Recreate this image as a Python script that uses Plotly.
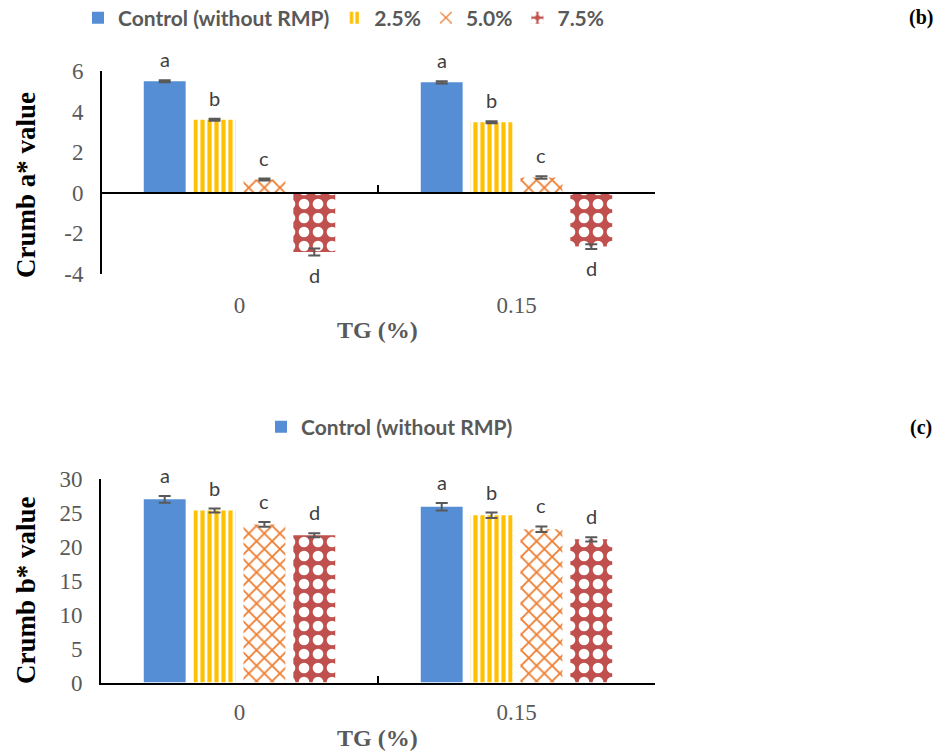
import plotly.graph_objects as go

# ---------------- data ----------------
categories = ["0", "0.15"]
series_names = ["Control (without RMP)", "2.5%", "5.0%", "7.5%"]

a_values = {
    "Control (without RMP)": [5.50, 5.44],
    "2.5%": [3.60, 3.47],
    "5.0%": [0.65, 0.75],
    "7.5%": [-2.92, -2.65],
}
a_errors = {
    "Control (without RMP)": [0.05, 0.05],
    "2.5%": [0.05, 0.05],
    "5.0%": [0.05, 0.06],
    "7.5%": [0.17, 0.12],
}
b_values = {
    "Control (without RMP)": [27.0, 25.9],
    "2.5%": [25.35, 24.65],
    "5.0%": [23.3, 22.6],
    "7.5%": [21.7, 21.1],
}
b_errors = {
    "Control (without RMP)": [0.5, 0.55],
    "2.5%": [0.3, 0.4],
    "5.0%": [0.35, 0.4],
    "7.5%": [0.3, 0.3],
}
letters = ["a", "b", "c", "d"]

a_yticks = [-4, -2, 0, 2, 4, 6]
a_yticktext = ["-4", "-2", "0", "2", "4", "6"]
b_yticks = [0, 5, 10, 15, 20, 25, 30]
b_yticktext = ["0", "5", "10", "15", "20", "25", "30"]

# ---------------- styles ----------------
W, H = 943, 751
BARGAP = 0.28
GROUPGAP = 0.16
GRAY = "#595959"
SERIF = "Liberation Serif"
SANS = "Lato"

styles = {
    "Control (without RMP)": dict(color="#558ED5", pattern=None),
    "2.5%": dict(color="#FFC000", pattern=dict(shape="|", fgcolor="#FFC000", bgcolor="white",
                                                size=7, solidity=0.6, fillmode="replace")),
    "5.0%": dict(color="#ED7D31", pattern=dict(shape="x", fgcolor="#ED7D31", bgcolor="white",
                                                size=11, solidity=0.3, fillmode="replace")),
    "7.5%": dict(color="#C0504D", pattern=dict(shape=".", fgcolor="white", bgcolor="#C0504D",
                                                size=14, solidity=0.45, fillmode="replace")),
}


def px_x(p):
    return p / W


def px_y(p):
    return 1 - p / H


x_dom = [px_x(101), px_x(655)]
top_dom = [px_y(274), px_y(71)]
bot_dom = [px_y(682.5), px_y(479)]

fig = go.Figure()

for name in series_names:
    st = styles[name]
    marker = dict(color=st["color"], line=dict(width=0))
    if st["pattern"]:
        marker["pattern"] = st["pattern"]
    fig.add_trace(go.Bar(
        x=categories, y=a_values[name], name=name, marker=marker,
        error_y=dict(type="data", array=a_errors[name], color=GRAY, thickness=2, width=6),
        xaxis="x", yaxis="y", legend="legend", showlegend=True,
    ))
    fig.add_trace(go.Bar(
        x=categories, y=b_values[name], name=name, marker=marker,
        error_y=dict(type="data", array=b_errors[name], color=GRAY, thickness=2, width=6),
        xaxis="x2", yaxis="y2", legend="legend2",
        showlegend=(name == "Control (without RMP)"),
    ))

# letter annotations
annotations = []
slot = (1 - BARGAP) / len(series_names)
for i, name in enumerate(series_names):
    off = (i - (len(series_names) - 1) / 2) * slot
    for j in range(len(categories)):
        for xr, yr, vals, errs in (("x", "y", a_values, a_errors), ("x2", "y2", b_values, b_errors)):
            v = vals[name][j]
            e = errs[name][j]
            pos = v >= 0
            annotations.append(dict(
                x=j + off, y=v + e if pos else v - e, xref=xr, yref=yr,
                text=letters[i], showarrow=False,
                yanchor="bottom" if pos else "top", yshift=7 if pos else -5,
                font=dict(family=SANS, size=20, color="#404040"),
            ))

# axis titles / panel labels
for ycen, label in ((185, "Crumb a* value"), (590, "Crumb b* value")):
    annotations.append(dict(
        x=px_x(26), y=px_y(ycen), xref="paper", yref="paper", text=label, textangle=-90,
        showarrow=False, xanchor="center", yanchor="middle",
        font=dict(family=SERIF, size=27, color="black", weight="bold"),
    ))
for ycen in (330, 738):
    annotations.append(dict(
        x=px_x(377), y=px_y(ycen), xref="paper", yref="paper", text="TG (%)",
        showarrow=False, xanchor="center", yanchor="middle",
        font=dict(family=SERIF, size=24, color=GRAY, weight="bold"),
    ))
for ycen, lab in ((18, "(b)"), (427, "(c)")):
    annotations.append(dict(
        x=px_x(921), y=px_y(ycen), xref="paper", yref="paper", text=lab,
        showarrow=False, xanchor="center", yanchor="middle",
        font=dict(family=SERIF, size=20, color="black", weight="bold"),
    ))

zero_pos = top_dom[0] + (0 - a_yticks[0]) / (a_yticks[-1] - a_yticks[0]) * (top_dom[1] - top_dom[0])

tickfont = dict(family=SERIF, size=23, color=GRAY)
xcommon = dict(type="category", domain=x_dom, showline=True, linecolor="black", linewidth=2,
               ticks="inside", tickson="boundaries", ticklen=7, tickcolor="black", tickwidth=2,
               showgrid=False, tickfont=tickfont, categoryorder="array", categoryarray=categories)
ycommon = dict(showline=True, linecolor="black", linewidth=2, ticks="", showgrid=False,
               zeroline=False, tickfont=tickfont, ticklabelstandoff=12)

fig.update_layout(
    width=W, height=H,
    margin=dict(l=0, r=0, t=0, b=0, autoexpand=False),
    paper_bgcolor="white", plot_bgcolor="white",
    barmode="group", bargap=BARGAP, bargroupgap=GROUPGAP,
    xaxis=dict(**xcommon, anchor="free", position=zero_pos, ticklabelstandoff=92),
    yaxis=dict(**ycommon, domain=top_dom, range=[a_yticks[0], a_yticks[-1]],
               tickvals=a_yticks, ticktext=a_yticktext, anchor="free", position=x_dom[0]),
    xaxis2=dict(**xcommon, anchor="y2", ticklabelstandoff=8),
    yaxis2=dict(**ycommon, domain=bot_dom, range=[b_yticks[0], b_yticks[-1]],
                tickvals=b_yticks, ticktext=b_yticktext, anchor="x2"),
    legend=dict(orientation="h", x=px_x(78), y=px_y(18), xanchor="left", yanchor="middle",
                font=dict(family=SANS, size=21, color=GRAY, weight="bold"),
                bgcolor="rgba(0,0,0,0)", itemwidth=30),
    legend2=dict(orientation="h", x=px_x(261), y=px_y(427), xanchor="left", yanchor="middle",
                 font=dict(family=SANS, size=21, color=GRAY, weight="bold"),
                 bgcolor="rgba(0,0,0,0)", itemwidth=30),
    annotations=annotations,
)

fig.write_html("out.html")
